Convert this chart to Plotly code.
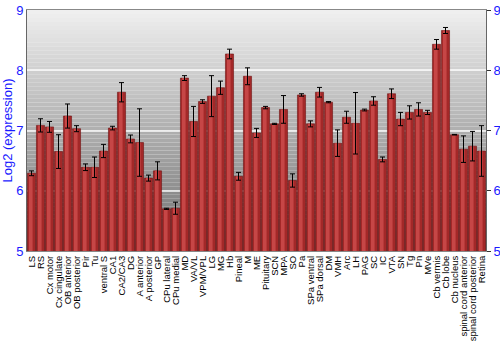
import plotly.graph_objects as go

categories = ["LS", "RS", "Cx motor", "Cx cingulate", "OB anterior", "OB posterior", "Pir", "Tu",
              "ventral S", "CA1", "CA2/CA3", "DG", "A anterior", "A posterior", "GP", "CPu lateral",
              "CPu medial", "MD", "VA/VL", "VPM/VPL", "LG", "MG", "Hb", "Pineal", "M", "ME",
              "Pituitary", "SCN", "MPA", "SO", "Pa", "SPa ventral", "SPa dorsal", "DM", "VMH", "Arc",
              "LH", "PAG", "SC", "IC", "VTA", "SN", "Tg", "Pn", "MVe", "Cb vermis", "Cb lobe",
              "Cb nucleus", "spinal cord anterior", "spinal cord posterior", "Retina"]
values = [6.29, 7.085, 7.06, 6.65, 7.24, 7.03, 6.39, 6.39, 6.66, 7.04, 7.635, 6.86, 6.80, 6.21,
          6.33, 5.70, 5.71, 7.87, 7.15, 7.48, 7.57, 7.71, 8.27, 6.24, 7.90, 6.96, 7.38, 7.11,
          7.35, 6.17, 7.59, 7.11, 7.635, 7.47, 6.79, 7.22, 7.12, 7.34, 7.49, 6.52, 7.61, 7.19,
          7.30, 7.35, 7.30, 8.43, 8.66, 6.93, 6.69, 6.74, 6.66]
errors = [0.04, 0.11, 0.09, 0.28, 0.20, 0.05, 0.055, 0.17, 0.11, 0.03, 0.16, 0.065, 0.56, 0.05,
          0.15, 0.01, 0.10, 0.04, 0.25, 0.03, 0.34, 0.11, 0.08, 0.065, 0.14, 0.075, 0.02, 0.01,
          0.23, 0.11, 0.02, 0.05, 0.08, 0.01, 0.22, 0.10, 0.51, 0.015, 0.07, 0.04, 0.08, 0.11,
          0.11, 0.11, 0.035, 0.08, 0.05, 0.005, 0.22, 0.245, 0.42]
y_ticks = [5, 6, 7, 8, 9]
y_range = [5, 9]

fig = go.Figure()
# bar body
fig.add_trace(go.Bar(
    x=categories, y=values,
    marker=dict(color="#a32828", line=dict(color="#6e1212", width=0.6)),
    hoverinfo="skip", showlegend=False,
))
# highlight stripe for a shaded look
fig.add_trace(go.Bar(
    x=categories, y=values, width=0.4, offset=-0.28,
    marker=dict(color="#c64646", line=dict(width=0)),
    hoverinfo="skip", showlegend=False,
))
# error bars drawn on top
fig.add_trace(go.Scatter(
    x=categories, y=values, mode="markers",
    marker=dict(size=1, opacity=0),
    error_y=dict(type="data", array=errors, color="black", thickness=1, width=2.5),
    hoverinfo="skip", showlegend=False,
))
# carrier for the right-hand axis
fig.add_trace(go.Scatter(
    x=categories, y=values, yaxis="y2", mode="markers",
    marker=dict(size=1, opacity=0), hoverinfo="skip", showlegend=False,
))

# background gradient bands
n = 60
top_c, bot_c = 240, 110
for i in range(n):
    c = round(top_c + (bot_c - top_c) * (i + 0.5) / n)
    fig.add_shape(type="rect", xref="paper", yref="paper",
                  x0=0, x1=1, y0=1 - (i + 1) / n, y1=1 - i / n,
                  fillcolor=f"rgb({c},{c},{c})", line=dict(width=0), layer="below")

tickfont = dict(family="Liberation Sans, Arial", size=13, color="#1a1aff")
fig.update_layout(
    width=500, height=350,
    margin=dict(l=27, r=14, t=10, b=99),
    paper_bgcolor="white", plot_bgcolor="rgba(0,0,0,0)",
    barmode="overlay", bargap=0.1,
    font=dict(family="Liberation Sans, Arial"),
    xaxis=dict(tickangle=-90, tickfont=dict(size=9.5, color="black"), automargin=False,
               tickmode="array", tickvals=categories, ticktext=categories,
               range=[-0.5, len(categories) - 0.5],
               showline=True, linecolor="#888", mirror=True, ticks="", showgrid=False),
    yaxis=dict(range=y_range, tickvals=y_ticks, tickfont=tickfont, automargin=False,
               showgrid=True, gridcolor="rgba(255,255,255,0.7)", gridwidth=1.5,
               ticks="", showline=True, linecolor="#666", zeroline=False,
               title=dict(text="Log2 (expression)", font=dict(size=13, color="#1a1aff"), standoff=4)),
    yaxis2=dict(range=y_range, tickvals=y_ticks, tickfont=tickfont, overlaying="y", side="right",
                automargin=False,
                showgrid=False, ticks="outside", ticklen=4, tickcolor="#333",
                showline=True, linecolor="#666", zeroline=False),
)
fig.write_html("out.html")
